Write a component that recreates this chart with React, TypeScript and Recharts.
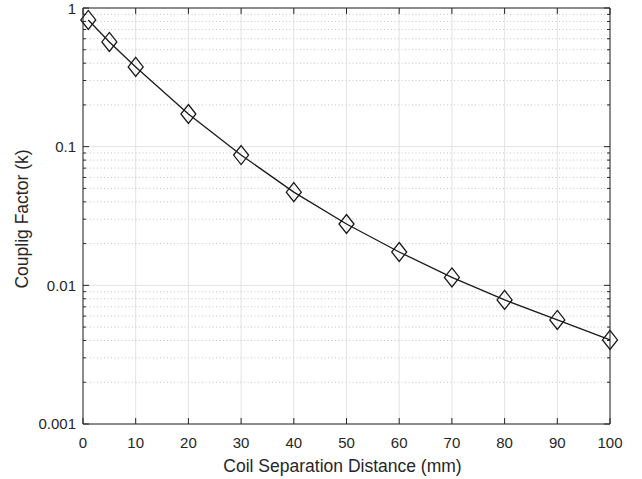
import React from 'react';
import { LineChart, Line, XAxis, YAxis, CartesianGrid, ReferenceLine, Label } from 'recharts';

const distances = [1, 5, 10, 20, 30, 40, 50, 60, 70, 80, 90, 100];
const coupling = [0.82, 0.569, 0.376, 0.172, 0.087, 0.047, 0.0277, 0.0174, 0.0114, 0.00785, 0.00563, 0.00404];
const xTicks = [0, 10, 20, 30, 40, 50, 60, 70, 80, 90, 100];
const yTicks = [0.001, 0.01, 0.1, 1];
const yTickLabels = ['0.001', '0.01', '0.1', '1'];
const decades = [0.001, 0.01, 0.1];
const minorMultipliers = [2, 3, 4, 5, 6, 7, 8, 9];

const data = distances.map((d, i) => ({ d, k: coupling[i] }));
const minorValues: number[] = [];
decades.forEach((dec) => minorMultipliers.forEach((m) => minorValues.push(dec * m)));

const AXIS = '#262626';
const MAJOR_GRID = '#e3e3e3';
const MINOR_GRID = '#c4c4c4';
const DECADE_PX = 138.7;
const X_PX = 5.27;
const MAJOR_LEN = 6;
const MINOR_LEN = 3;
const yFac = Math.pow(10, MAJOR_LEN / DECADE_PX);
const majX = MAJOR_LEN / X_PX;
const minX = MINOR_LEN / X_PX;

const Diamond = (props: any) => {
  const { cx, cy, index } = props;
  if (cx == null || cy == null) return null;
  const w = 7.5;
  const h = 9.5;
  return (
    <polygon
      key={`dm-${index}`}
      points={`${cx},${cy - h} ${cx + w},${cy} ${cx},${cy + h} ${cx - w},${cy}`}
      fill="none"
      stroke="#1a1a1a"
      strokeWidth={1.3}
    />
  );
};

export default function App() {
  return (
    <div style={{ position: 'absolute', left: 0, top: 0, background: '#fff' }}>
      <LineChart width={642} height={479} data={data} margin={{ top: 8, right: 32, bottom: 0, left: 0 }}>
        <CartesianGrid stroke={MAJOR_GRID} strokeWidth={1} />
        {minorValues.map((v) => (
          <ReferenceLine key={`mg-${v}`} y={v} stroke={MINOR_GRID} strokeDasharray="1 2.5" strokeWidth={1} />
        ))}
        <XAxis
          dataKey="d"
          type="number"
          domain={[0, 100]}
          ticks={xTicks}
          height={55}
          tickLine={false}
          tickSize={6}
          tickMargin={7}
          axisLine={{ stroke: AXIS, strokeWidth: 1 }}
          tick={{ fill: AXIS, fontSize: 15, fontFamily: 'Liberation Sans, Arial, sans-serif' }}
        >
          <Label
            content={(p: any) => {
              const vb = p.viewBox || {};
              return (
                <text
                  x={vb.x + vb.width / 2 - 4}
                  y={472}
                  textAnchor="middle"
                  fill={AXIS}
                  fontSize={17.5}
                  fontFamily="Liberation Sans, Arial, sans-serif"
                >
                  Coil Separation Distance (mm)
                </text>
              );
            }}
          />
        </XAxis>
        <YAxis
          type="number"
          scale="log"
          domain={[0.001, 1]}
          ticks={yTicks}
          width={83}
          tickLine={false}
          tickSize={6}
          tickMargin={1}
          axisLine={{ stroke: AXIS, strokeWidth: 1 }}
          tickFormatter={(v: number) => yTickLabels[yTicks.findIndex((t) => Math.abs(t - v) / t < 1e-6)] ?? String(v)}
          tick={{ fill: AXIS, fontSize: 15, fontFamily: 'Liberation Sans, Arial, sans-serif' }}
        >
          <Label
            content={(p: any) => {
              const vb = p.viewBox || {};
              const cx = vb.x + 22;
              const cy = vb.y + vb.height / 2 + 3;
              return (
                <text
                  x={cx}
                  y={cy}
                  transform={`rotate(-90, ${cx}, ${cy})`}
                  textAnchor="middle"
                  dominantBaseline="central"
                  fill={AXIS}
                  fontSize={17.5}
                  fontFamily="Liberation Sans, Arial, sans-serif"
                >
                  Couplig Factor (k)
                </text>
              );
            }}
          />
        </YAxis>
        <ReferenceLine y={1} stroke={AXIS} strokeWidth={1} />
        <ReferenceLine x={100} stroke={AXIS} strokeWidth={1} />
        {xTicks.map((t) => (
          <ReferenceLine key={`xb-${t}`} segment={[{ x: t, y: 0.001 }, { x: t, y: 0.001 * yFac }]} stroke={AXIS} />
        ))}
        {xTicks.map((t) => (
          <ReferenceLine key={`xt-${t}`} segment={[{ x: t, y: 1 }, { x: t, y: 1 / yFac }]} stroke={AXIS} />
        ))}
        {yTicks.map((t) => (
          <ReferenceLine key={`yl-${t}`} segment={[{ x: 0, y: t }, { x: majX, y: t }]} stroke={AXIS} />
        ))}
        {yTicks.map((t) => (
          <ReferenceLine key={`yr-${t}`} segment={[{ x: 100 - majX, y: t }, { x: 100, y: t }]} stroke={AXIS} />
        ))}
        {minorValues.map((v) => (
          <ReferenceLine key={`ml-${v}`} segment={[{ x: 0, y: v }, { x: minX, y: v }]} stroke={AXIS} />
        ))}
        {minorValues.map((v) => (
          <ReferenceLine key={`mr-${v}`} segment={[{ x: 100 - minX, y: v }, { x: 100, y: v }]} stroke={AXIS} />
        ))}
        <Line
          type="linear"
          dataKey="k"
          stroke="#1a1a1a"
          strokeWidth={1.3}
          dot={<Diamond />}
          activeDot={false}
          isAnimationActive={false}
        />
      </LineChart>
    </div>
  );
}
